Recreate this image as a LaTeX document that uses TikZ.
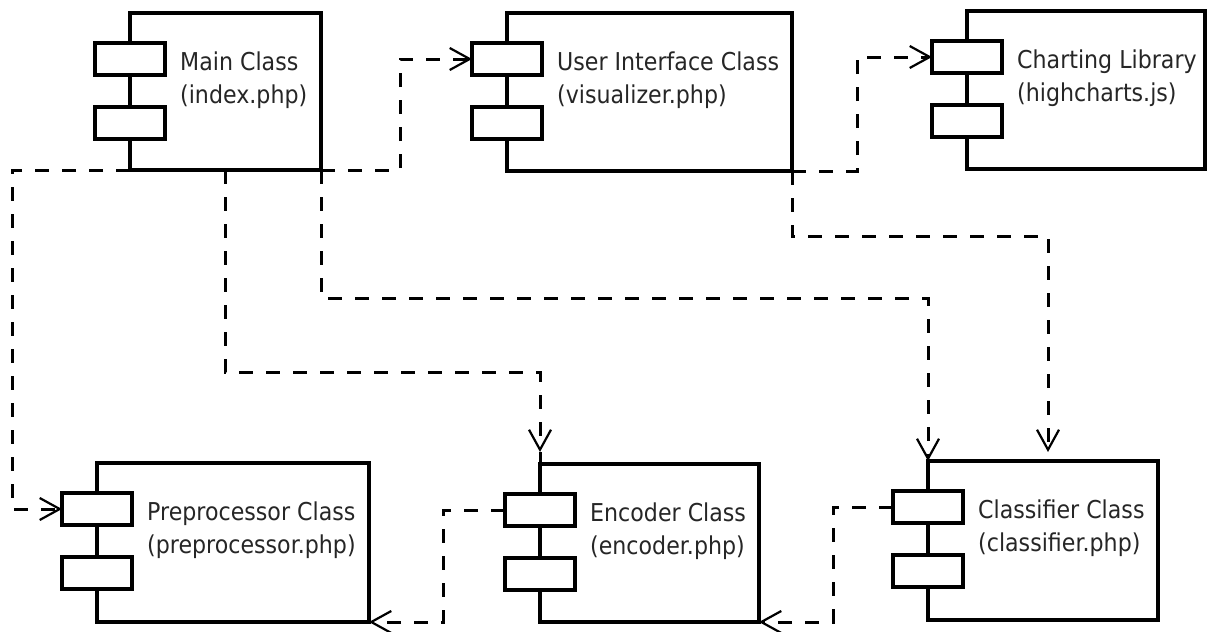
\documentclass[tikz,border=0pt]{standalone}
\usepackage{fontspec}
\newfontfamily\lblfont[FakeStretch=0.9]{DejaVu Sans}
\usetikzlibrary{arrows.meta,calc}

\tikzset{
  body/.style={draw, line width=3.2pt, fill=white, anchor=north west, inner sep=0pt, outer sep=0pt,
    minimum width=#1},
  port/.style={draw, line width=3.2pt, fill=white, anchor=north west, inner sep=0pt, outer sep=0pt,
    minimum width=70pt, minimum height=32pt},
  lbl/.style={anchor=base west, inner sep=0pt, align=left, text=black!85,
    font=\lblfont\fontsize{24.6}{33}\selectfont},
  dep/.style={line width=3pt, dash pattern=on 14pt off 13pt,
    -{Straight Barb[length=20pt,width=22pt,line width=2.2pt]}},
  tail/.style={line width=3pt},
}

% component: body node, two port nodes on its left edge, two-line label
% (the label is anchored on the baseline of its second line)
\newcommand{\umlcomp}[7]{%
  % #1 name, #2 left, #3 top, #4 right, #5 bottom, #6 first line, #7 second line
  \node[body=#4pt-#2pt, minimum height=#5pt-#3pt] (#1) at (#2,#3) {};
  \node[port] (#1p1) at (#2-35,#3+30) {};
  \node[port] (#1p2) at (#2-35,#3+94) {};
  \node[lbl] (#1t) at (#2+50,#3+90) {#6\\#7};
}

\begin{document}
\begin{tikzpicture}[x=1pt,y=-1pt]
\useasboundingbox (0,0) rectangle (1208,632);

\umlcomp{main}{130}{13}{321}{170}{Main Class}{(index.php)}
\umlcomp{ui}{507}{13}{792}{171}{User Interface Class}{(visualizer.php)}
\umlcomp{chart}{967}{11}{1205}{169}{Charting Library}{(highcharts.js)}
\umlcomp{pre}{97}{463}{369}{622}{Preprocessor Class}{(preprocessor.php)}
\umlcomp{enc}{540}{464}{759}{622}{Encoder Class}{(encoder.php)}
\umlcomp{cls}{928}{461}{1158}{620}{Classifier Class}{(classifier.php)}

% auxiliary points on the connectors
\coordinate (mainmid) at ($(main.south west)+(95,0)$);
\coordinate (enctip) at ($(enc.north west)+(0,-12)$);
\coordinate (clstip) at ($(cls.north west)+(120,-9)$);

% dependencies
\draw[dep] (main.south west) -- ++(-118,0) |- (prep1.west);
\draw[dep] (main.south east) -- ++(79,0) |- (uip1.west);
\draw[dep] (mainmid) -- ++(0,202) -| (enctip);
\draw[tail] (enctip) -- (enc.north west);
\draw[dep] (main.south east) -- ++(0,128) -| (cls.north west);
\draw[dep] (ui.south east) -- ++(65,0) |- (chartp1.west);
\draw[dep] (ui.south east) -- ++(0,65) -| (clstip);
\draw[dep] (encp1.west) -- ++(-62,0) |- (pre.south east);
\draw[dep] (clsp1.west) -- ++(-60,0) |- (enc.south east);
\end{tikzpicture}
\end{document}
